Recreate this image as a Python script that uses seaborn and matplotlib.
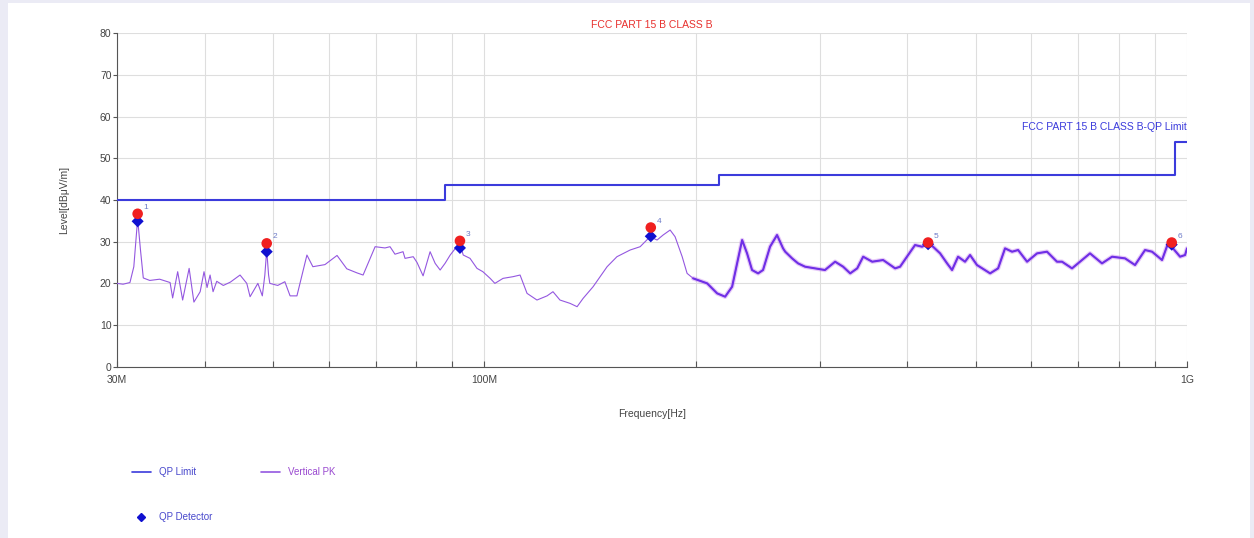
import numpy as np
import pandas as pd
import matplotlib
matplotlib.use("Agg")
import matplotlib.pyplot as plt
import matplotlib.ticker as mtick
from matplotlib.lines import Line2D
from matplotlib.patches import Rectangle
import seaborn as sns

freq_mhz = [30.0, 30.6, 31.3, 31.7, 32.1, 32.4, 32.7, 33.4, 34.5, 35.7, 36.0, 36.6, 37.2, 38.0,
            38.6, 39.4, 39.9, 40.3, 40.7, 41.1, 41.6, 42.5, 43.5, 44.9, 45.9, 46.4, 47.6, 48.3,
            48.7, 49.0, 49.3, 49.5, 50.8, 52.0, 52.9, 54.1, 55.9, 57.0, 59.3, 61.7, 63.7, 65.9,
            67.2, 69.9, 72.2, 73.4, 74.6, 76.6, 77.1, 79.2, 80.2, 81.8, 83.7, 85.1, 86.5, 87.9,
            89.4, 91.7, 92.3, 93.3, 95.4, 97.6, 99.5, 101.9, 103.5, 106.3, 109.8, 112.4, 115.0,
            118.8, 122.8, 125.2, 128.1, 132.4, 135.5, 138.2, 142.8, 149.5, 154.4, 161.2, 166.6,
            172.1, 176.1, 179.6, 183.8, 186.8, 191.2, 194.3, 198.2, 207.5, 214.4, 220.1, 225.2,
            228.9, 232.7, 236.5, 240.4, 245.2, 249.2, 255.0, 260.9, 266.1, 268.0, 274.1, 279.5,
            286.0, 295.5, 305.3, 315.6, 324.0, 331.6, 339.3, 346.0, 356.4, 369.4, 384.2, 390.5,
            400.9, 410.1, 419.6, 428.0, 435.0, 445.2, 455.5, 463.0, 472.2, 483.1, 491.1, 502.4,
            524.5, 538.4, 550.8, 563.6, 574.9, 592.0, 611.7, 632.0, 653.0, 663.9, 686.0, 708.8,
            727.6, 756.8, 782.2, 816.2, 843.3, 871.4, 891.7, 921.3, 939.6, 955.1, 977.4, 993.5,
            1000.0]
level_pk = [20.0, 19.8, 20.2, 24.0, 35.5, 28.0, 21.3, 20.7, 21.0, 20.2, 16.5, 22.8, 16.0, 23.6,
            15.5, 18.0, 22.8, 19.0, 22.0, 18.0, 20.5, 19.5, 20.3, 22.0, 20.0, 16.8, 20.0, 17.0,
            22.0, 28.0, 22.0, 20.0, 19.5, 20.4, 17.0, 17.0, 26.8, 24.0, 24.5, 26.7, 23.5, 22.5,
            22.0, 28.8, 28.5, 28.8, 27.0, 27.6, 26.0, 26.4, 25.0, 21.8, 27.6, 24.8, 23.2, 24.8,
            26.8, 29.2, 29.5, 26.8, 26.0, 23.6, 22.8, 21.2, 20.0, 21.2, 21.6, 22.0, 17.6,
            16.0, 17.0, 18.0, 16.0, 15.2, 14.4, 16.4, 19.2, 24.0, 26.4, 28.0, 28.8,
            31.2, 30.4, 31.6, 32.8, 31.2, 26.4, 22.4, 21.2, 20.0, 17.6, 16.8, 19.2,
            24.8, 30.4, 27.2, 23.2, 22.4, 23.2, 28.8, 31.6, 28.4, 27.6, 26.0, 24.8,
            24.0, 23.6, 23.2, 25.2, 24.0, 22.4, 23.6, 26.4, 25.2, 25.6, 23.6, 24.0,
            26.8, 29.2, 28.8, 29.5, 28.8, 27.2, 24.8, 23.2, 26.4, 25.2, 26.8, 24.4,
            22.4, 23.6, 28.4, 27.6, 28.0, 25.2, 27.2, 27.6, 25.2, 25.2, 23.6, 25.6,
            27.2, 24.8, 26.4, 26.0, 24.4, 28.0, 27.6, 25.6, 29.6, 28.4, 26.4, 26.8,
            28.4]

# FCC part 15 B class B QP limit steps
limit_freq = [30, 88, 216, 960, 1000]
limit_level = [40, 43.5, 46, 54, 54]

# final measurement points
marker_no = ["1", "2", "3", "4", "5", "6"]
marker_freq = [32.1, 49.0, 92.3, 172.5, 428.0, 951.0]
marker_pk = [36.7, 29.6, 30.2, 33.4, 29.8, 29.8]
marker_qp = [34.9, 27.6, 28.5, 31.3, 29.4, 29.3]

trace = pd.DataFrame({"freq": freq_mhz, "level": level_pk})
limit = pd.DataFrame({"freq": limit_freq, "level": limit_level})
marks = pd.DataFrame({"freq": marker_freq, "pk": marker_pk, "qp": marker_qp, "no": marker_no})

sns.set_style("white")
plt.rcParams["font.family"] = ["Liberation Sans", "DejaVu Sans"]

fig = plt.figure(figsize=(12.54, 5.38), dpi=100)
fig.patch.set_facecolor("#ebebf5")
fig.patches.append(Rectangle((0.006, 0.0), 0.991, 0.994, transform=fig.transFigure,
                             facecolor="white", edgecolor="none", zorder=-10))
ax = fig.add_axes([0.0933, 0.3184, 0.8533, 0.6196])
ax.set_facecolor("white")
ax.set_zorder(1)

trace_col = "#9457e0"
limit_col = "#3b3bdc"

sns.lineplot(data=trace, x="freq", y="level", ax=ax, color=trace_col, lw=0.8,
             estimator=None, sort=False, zorder=3)
# upper band looks thicker/darker in the scan (dense sweep points)
hi = trace[trace["freq"] >= 195]
sns.lineplot(data=hi, x="freq", y="level", ax=ax, color="#c98af0", lw=3.2, alpha=0.45,
             estimator=None, sort=False, zorder=3)
sns.lineplot(data=hi, x="freq", y="level", ax=ax, color="#6f2fe6", lw=1.5,
             estimator=None, sort=False, zorder=3)
sns.lineplot(data=limit, x="freq", y="level", ax=ax, color=limit_col, lw=1.5,
             drawstyle="steps-post", estimator=None, sort=False, zorder=4)
sns.scatterplot(data=marks, x="freq", y="qp", ax=ax, marker="D", s=38, color="#1010d0",
                edgecolor="none", zorder=5)
sns.scatterplot(data=marks, x="freq", y="pk", ax=ax, marker="o", s=58, color="#f02020",
                edgecolor="none", zorder=6)
for _, r in marks.iterrows():
    ax.text(r["freq"] * 1.02, r["pk"] + 1.2, r["no"], fontsize=6, color="#6d7bc8", zorder=7)

ax.set_xscale("log")
ax.set_xlim(30, 1000)
ax.set_ylim(0, 80)
ax.set_xticks([30, 100, 1000])
ax.set_xticklabels(["30M", "100M", "1G"])
ax.xaxis.set_minor_locator(mtick.FixedLocator([40, 50, 60, 70, 80, 90, 200, 300, 400, 500,
                                               600, 700, 800, 900]))
ax.xaxis.set_minor_formatter(mtick.NullFormatter())
ax.set_yticks(np.arange(0, 81, 10))
ax.grid(True, which="both", color="#dedede", lw=0.8)
ax.set_axisbelow(True)

for s in ["top", "right"]:
    ax.spines[s].set_visible(False)
for s in ["left", "bottom"]:
    ax.spines[s].set_color("#555555")
    ax.spines[s].set_linewidth(0.8)
ax.tick_params(axis="y", direction="out", length=3, width=0.8, color="#555555",
               labelsize=7.5, labelcolor="#444444", left=True, pad=1)
ax.tick_params(axis="x", which="both", direction="in", length=4, width=0.8, color="#555555",
               labelsize=7.5, labelcolor="#444444", bottom=True, pad=6)

ax.set_xlabel("Frequency[Hz]", fontsize=7.5, color="#444444", labelpad=17)
ax.set_ylabel("Level[dBμV/m]", fontsize=7.5, color="#444444", labelpad=22)
ax.set_title("FCC PART 15 B CLASS B", fontsize=7.5, color="#e8312e", pad=4)
ax.text(1000, 56.3, "FCC PART 15 B CLASS B-QP Limit", fontsize=7.5, color=limit_col,
        ha="right", va="bottom")

handles = [Line2D([], [], color=limit_col, lw=1.2),
           Line2D([], [], color="#1010d0", marker="D", ms=4, lw=0),
           Line2D([], [], color=trace_col, lw=1.2)]
labels = ["QP Limit", "QP Detector", "Vertical PK"]
leg = fig.legend(handles, labels, loc="upper left", bbox_to_anchor=(0.098, 0.148), ncol=2,
                 frameon=False, fontsize=7, handlelength=2.0, labelspacing=3.6,
                 columnspacing=5.0, handletextpad=0.8)
for t, c in zip(leg.get_texts(), ["#4848cc", "#4848cc", "#9a4ad0"]):
    t.set_color(c)

fig.savefig("out.png", dpi=100, facecolor=fig.get_facecolor())
